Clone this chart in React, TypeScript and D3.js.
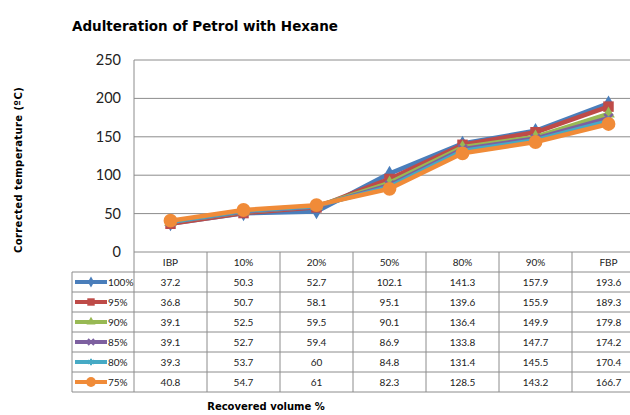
import React from "react";
import * as d3 from "d3";

const categories = ["IBP", "10%", "20%", "50%", "80%", "90%", "FBP"];
const seriesNames = ["100%", "95%", "90%", "85%", "80%", "75%"];
const s100 = [37.2, 50.3, 52.7, 102.1, 141.3, 157.9, 193.6];
const s95 = [36.8, 50.7, 58.1, 95.1, 139.6, 155.9, 189.3];
const s90 = [39.1, 52.5, 59.5, 90.1, 136.4, 149.9, 179.8];
const s85 = [39.1, 52.7, 59.4, 86.9, 133.8, 147.7, 174.2];
const s80 = [39.3, 53.7, 60, 84.8, 131.4, 145.5, 170.4];
const s75 = [40.8, 54.7, 61, 82.3, 128.5, 143.2, 166.7];
const yTicks = [0, 50, 100, 150, 200, 250];

const allSeries = [s100, s95, s90, s85, s80, s75];
const colors = ["#4A7EBB", "#BE4B48", "#98B954", "#7D60A0", "#46AAC5", "#F08B38"];
const shapes = [d3.symbolDiamond, d3.symbolSquare, d3.symbolTriangle, d3.symbolX, d3.symbolAsterisk, d3.symbolCircle];
const sizes = [70, 110, 70, 50, 60, 150];

const App = () => {
  const left = 134;
  const colW = 73;
  const top = 60;
  const bottom = 252;
  const rowH = 20;
  const legendLeft = 72;

  const x = d3
    .scaleBand()
    .domain(categories)
    .range([left, left + colW * categories.length]);
  const y = d3.scaleLinear().domain([0, 250]).range([bottom, top]);

  const line = d3
    .line<number>()
    .x((d, i) => x(categories[i])! + x.bandwidth() / 2)
    .y((d) => y(d));

  const right = left + colW * categories.length;
  const tableTop = bottom;
  const headerBottom = tableTop + rowH;
  const tableBottom = headerBottom + rowH * seriesNames.length;
  const grid = "#8c8c8c";
  const font = "Lato, 'Open Sans', sans-serif";
  const boldFont = "'DejaVu Sans', sans-serif";

  return (
    <svg width={630} height={415} style={{ position: "absolute", left: 0, top: 0, background: "white" }}>
      {/* title */}
      <text x={72} y={31} fontFamily={boldFont} fontWeight="bold" fontSize={13.5}>
        Adulteration of Petrol with Hexane
      </text>

      {/* gridlines */}
      {yTicks.map((t) => (
        <g key={t}>
          {t > 0 && <line x1={left} x2={right} y1={y(t)} y2={y(t)} stroke={grid} strokeWidth={1} />}
          <text x={121} y={y(t) + 5} textAnchor="end" fontFamily={font} fontSize={14.5} fill="#222">
            {t}
          </text>
        </g>
      ))}
      <line x1={left} x2={left} y1={top} y2={tableBottom} stroke={grid} />

      {/* table */}
      <line x1={left} x2={right} y1={tableTop} y2={tableTop} stroke={grid} />
      {d3.range(seriesNames.length + 1).map((i) => (
        <line
          key={"r" + i}
          x1={legendLeft}
          x2={right}
          y1={headerBottom + i * rowH}
          y2={headerBottom + i * rowH}
          stroke={grid}
        />
      ))}
      <line x1={legendLeft} x2={legendLeft} y1={headerBottom} y2={tableBottom} stroke={grid} />
      {categories.map((c) => (
        <g key={c}>
          <line
            x1={x(c)! + colW}
            x2={x(c)! + colW}
            y1={tableTop}
            y2={tableBottom}
            stroke={grid}
          />
          <text
            x={x(c)! + colW / 2}
            y={tableTop + 14}
            textAnchor="middle"
            fontFamily={font}
            fontSize={10}
            fill="#222"
          >
            {c}
          </text>
        </g>
      ))}

      {seriesNames.map((name, si) => {
        const ry = headerBottom + si * rowH + rowH / 2;
        return (
          <g key={name}>
            <line x1={legendLeft + 3} x2={legendLeft + 35} y1={ry} y2={ry} stroke={colors[si]} strokeWidth={4} />
            <path
              d={d3.symbol().type(shapes[si]).size(sizes[si] * 0.5)()!}
              transform={`translate(${legendLeft + 19},${ry})`}
              fill={colors[si]}
              stroke={colors[si]}
              strokeWidth={si === 3 || si === 4 ? 2 : 0}
            />
            <text x={legendLeft + 36} y={ry + 4} fontFamily={font} fontSize={10} fill="#222">
              {name}
            </text>
            {allSeries[si].map((v, i) => (
              <text
                key={i}
                x={x(categories[i])! + colW / 2}
                y={ry + 4}
                textAnchor="middle"
                fontFamily={font}
                fontSize={10}
                fill="#222"
              >
                {v}
              </text>
            ))}
          </g>
        );
      })}

      {/* series */}
      {allSeries.map((s, si) => (
        <g key={si}>
          <path d={line(s)!} fill="none" stroke={colors[si]} strokeWidth={4.5} strokeLinejoin="round" />
          {s.map((v, i) => (
            <path
              key={i}
              d={d3.symbol().type(shapes[si]).size(sizes[si])()!}
              transform={`translate(${x(categories[i])! + x.bandwidth() / 2},${y(v)})`}
              fill={colors[si]}
              stroke={colors[si]}
              strokeWidth={si === 3 || si === 4 ? 2.5 : 0}
            />
          ))}
        </g>
      ))}

      {/* axis titles */}
      <text
        transform="translate(22,170) rotate(-90)"
        textAnchor="middle"
        fontFamily={boldFont}
        fontWeight="bold"
        fontSize={10}
        letterSpacing={0.4}
      >
        Corrected temperature (ºC)
      </text>
      <text
        x={266}
        y={410}
        textAnchor="middle"
        fontFamily={boldFont}
        fontWeight="bold"
        fontSize={10}
      >
        Recovered volume %
      </text>
    </svg>
  );
};

export default App;
